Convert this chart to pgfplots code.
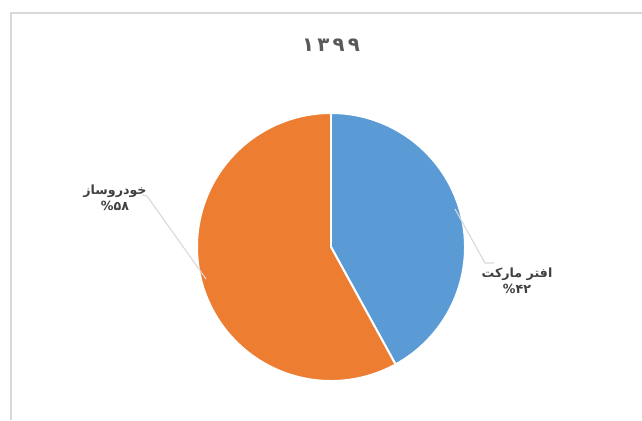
\documentclass[border=0pt]{standalone}
\usepackage{pgfplots}
\pgfplotsset{compat=1.18}
\usepackage{fontspec}
\setmainfont{DejaVu Sans}
\newfontfamily\arabicfont[Script=Arabic]{DejaVu Sans}
\TeXXeTstate=1
\definecolor{pieblue}{HTML}{5B9BD5}
\definecolor{pieorange}{HTML}{ED7D31}
\definecolor{txt}{HTML}{404040}
\definecolor{ttl}{HTML}{595959}
\definecolor{leader}{HTML}{D9D9D9}
\definecolor{frame}{HTML}{D9D9D9}

% share of each slice, in percent
\pgfmathsetmacro\shareA{42}  % aftermarket
\pgfmathsetmacro\shareB{58}  % automaker
\pgfmathsetmacro\angA{360*\shareA/100}

\begin{document}
\begin{tikzpicture}
\begin{axis}[
    scale only axis,
    width=16.05cm, height=10.5cm,
    xmin=0, xmax=642, ymin=0, ymax=420,
    hide axis, clip=false,
]
% chart area frame (only top and left edges fall inside the picture)
\draw[frame, line width=0.8pt] (11,0) -- (11,407) -- (642,407);

% slices, clockwise from 12 o'clock, centre (331,173), radius 134
\addplot[fill=pieblue, draw=white, line width=1.4pt, domain=0:\angA, samples=90]
    ({331+134*sin(x)}, {173+134*cos(x)}) -- (331,173) -- cycle;
\addplot[fill=pieorange, draw=white, line width=1.4pt, domain=\angA:360, samples=120]
    ({331+134*sin(x)}, {173+134*cos(x)}) -- (331,173) -- cycle;

% leader lines
\draw[leader, line width=0.8pt] (142,225) -- (147,224) -- (206,141);
\draw[leader, line width=0.8pt] (455,211) -- (485,157) -- (494,157);

% title
\node[text=ttl, font=\arabicfont\bfseries\fontsize{14}{17}\selectfont] at (331,375) {۱\,۳\,۹\,۹};

% data labels
\node[text=txt, font=\arabicfont\bfseries\fontsize{9}{11.5}\selectfont, align=center] at (115,222)
    {\beginR خودروساز\endR\\\%۵۸};
\node[text=txt, font=\arabicfont\bfseries\fontsize{9}{11.5}\selectfont, align=center] at (517,139)
    {\beginR افتر مارکت\endR\\\%۴۲};
\end{axis}
\pgfresetboundingbox
\path (current axis.south west) rectangle (current axis.north east);
\end{tikzpicture}
\end{document}
